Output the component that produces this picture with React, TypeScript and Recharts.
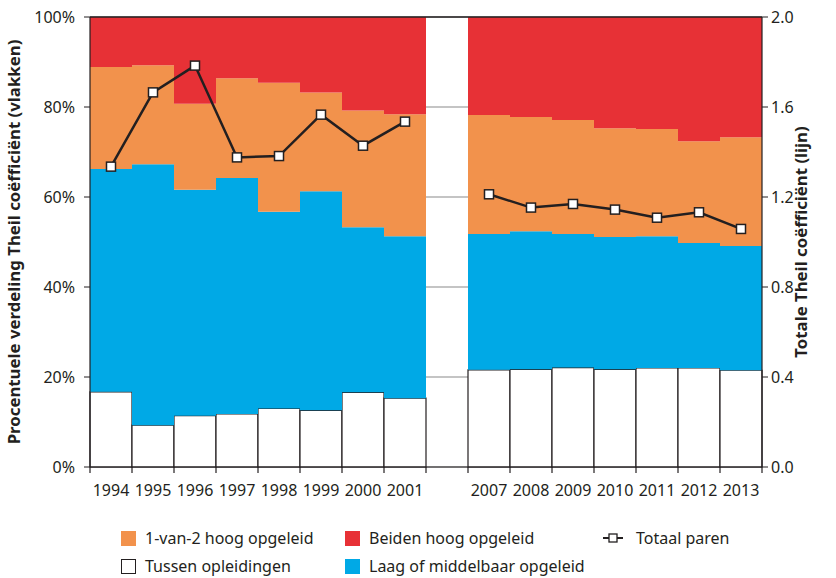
import React from 'react';
import { ComposedChart, Bar, Line, XAxis, YAxis, CartesianGrid, ReferenceLine } from 'recharts';

// categories ('' is the empty gap between the two periods)
const years = ['1994', '1995', '1996', '1997', '1998', '1999', '2000', '2001', '', '2007', '2008', '2009', '2010', '2011', '2012', '2013'];

// stacked shares in %, bottom to top
const tussen = [16.7, 9.3, 11.4, 11.8, 13.0, 12.6, 16.6, 15.3, null, 21.6, 21.7, 22.1, 21.7, 22.0, 22.0, 21.5];
const laag = [49.5, 58.0, 50.2, 52.4, 43.7, 48.7, 36.7, 36.0, null, 30.2, 30.7, 29.7, 29.4, 29.3, 27.8, 27.6];
const eenVanTwee = [22.7, 22.0, 19.1, 22.2, 28.7, 21.9, 25.9, 27.1, null, 26.4, 25.4, 25.3, 24.2, 23.8, 22.6, 24.2];
const beiden = [11.1, 10.7, 19.3, 13.6, 14.6, 16.8, 20.8, 21.6, null, 21.8, 22.2, 22.9, 24.7, 24.9, 27.6, 26.7];

// total Theil coefficient (right axis)
const totaal = [1.335, 1.665, 1.784, 1.376, 1.382, 1.566, 1.428, 1.535, null, 1.212, 1.153, 1.169, 1.144, 1.108, 1.132, 1.058];

const leftTicks = [0, 20, 40, 60, 80, 100];
const rightTicks = [0, 0.4, 0.8, 1.2, 1.6, 2.0];

const data = years.map((year, i) => ({
  year,
  tussen: tussen[i],
  laag: laag[i],
  eenVanTwee: eenVanTwee[i],
  beiden: beiden[i],
  totaal: totaal[i],
}));

const INK = '#231f20';
const ORANGE = '#f2924c';
const RED = '#e73136';
const BLUE = '#00a9e6';
const FONT = '"Noto Sans", sans-serif';

// tick marks sit on the category boundaries, labels in the middle
const YearTick = (props: any) => {
  const { x, y, payload, index } = props;
  const half = payload && payload.offset ? payload.offset : 21;
  const last = index === years.length - 1;
  return (
    <g>
      <line x1={x - half} x2={x - half} y1={y} y2={y + 6} stroke={INK} strokeWidth={1.2} />
      {last && <line x1={x + half} x2={x + half} y1={y} y2={y + 6} stroke={INK} strokeWidth={1.2} />}
      <text x={x} y={y + 29} textAnchor="middle" fontSize={16} fill={INK} fontFamily={FONT}>
        {payload.value}
      </text>
    </g>
  );
};

const SquareDot = (props: any) => {
  const { cx, cy } = props;
  if (cx == null || cy == null) return null;
  return <rect x={cx - 4.5} y={cy - 4.5} width={9} height={9} fill="#fff" stroke={INK} strokeWidth={1.5} />;
};

const sideLabel = (text: string, dx: number) => (props: any) => {
  const { x, y, height } = props.viewBox;
  const cx = x + dx;
  const cy = y + height / 2;
  return (
    <text
      x={cx}
      y={cy}
      transform={`rotate(-90, ${cx}, ${cy})`}
      textAnchor="middle"
      dominantBaseline="central"
      fontSize={16.8}
      fontWeight="bold"
      fill={INK}
      fontFamily={FONT}
    >
      {text}
    </text>
  );
};

const Swatch = ({ color }: { color: string }) => (
  <span
    style={{
      display: 'inline-block',
      width: 13,
      height: 13,
      background: color,
      border: color === '#fff' ? `1px solid ${INK}` : `1px solid ${color}`,
      marginRight: 9,
    }}
  />
);

const LegendItem = ({ left, top, children, label }: any) => (
  <div style={{ position: 'absolute', left, top, display: 'flex', alignItems: 'center', fontSize: 16, color: INK, fontFamily: FONT, whiteSpace: 'nowrap' }}>
    {children}
    {label}
  </div>
);

export default function App() {
  return (
    <div style={{ position: 'absolute', left: 0, top: 0, width: 836, height: 578, background: '#fff' }}>
      <ComposedChart
        width={836}
        height={500}
        data={data}
        margin={{ top: 17, right: 0, bottom: 0, left: 0 }}
        barCategoryGap={0}
        barGap={0}
      >
        <CartesianGrid vertical={false} stroke="#b0b0b0" strokeWidth={1.4} />
        <XAxis
          dataKey="year"
          interval={0}
          height={33}
          tickLine={false}
          tickSize={0}
          tickMargin={0}
          tick={<YearTick />}
          axisLine={{ stroke: INK, strokeWidth: 1.2 }}
        />
        <YAxis
          width={90}
          domain={[0, 100]}
          ticks={leftTicks}
          tickFormatter={(v: number) => `${v}%`}
          tickSize={6}
          tickMargin={9}
          tick={{ fontSize: 16, fill: INK, fontFamily: FONT }}
          tickLine={{ stroke: INK }}
          axisLine={{ stroke: INK, strokeWidth: 1.2 }}
          label={{ content: sideLabel('Procentuele verdeling Theil coëfficiënt (vlakken)', 13) }}
        />
        <YAxis
          yAxisId="right"
          orientation="right"
          width={74}
          domain={[0, 2]}
          ticks={rightTicks}
          tickFormatter={(v: number) => v.toFixed(1)}
          tickSize={6}
          tickMargin={3}
          tick={{ fontSize: 16, fill: INK, fontFamily: FONT }}
          tickLine={{ stroke: INK }}
          axisLine={{ stroke: INK, strokeWidth: 1.2 }}
          label={{ content: sideLabel('Totale Theil coëfficiënt (lijn)', 38) }}
        />
        <Bar dataKey="tussen" stackId="a" fill="#fff" stroke={INK} strokeWidth={1.2} isAnimationActive={false} />
        <Bar dataKey="laag" stackId="a" fill={BLUE} isAnimationActive={false} />
        <Bar dataKey="eenVanTwee" stackId="a" fill={ORANGE} isAnimationActive={false} />
        <Bar dataKey="beiden" stackId="a" fill={RED} isAnimationActive={false} />
        <ReferenceLine y={100} stroke={INK} strokeWidth={1.5} />
        <Line
          yAxisId="right"
          dataKey="totaal"
          stroke={INK}
          strokeWidth={2.5}
          dot={<SquareDot />}
          activeDot={false}
          isAnimationActive={false}
        />
      </ComposedChart>

      <LegendItem left={121} top={527} label="1-van-2 hoog opgeleid">
        <Swatch color={ORANGE} />
      </LegendItem>
      <LegendItem left={345} top={527} label="Beiden hoog opgeleid">
        <Swatch color={RED} />
      </LegendItem>
      <LegendItem left={603} top={527} label="Totaal paren">
        <svg width={24} height={12} style={{ marginRight: 9 }}>
          <line x1={0} x2={20} y1={6} y2={6} stroke={INK} strokeWidth={2} />
          <rect x={6} y={2} width={8} height={8} fill="#fff" stroke={INK} strokeWidth={1.3} />
        </svg>
      </LegendItem>
      <LegendItem left={121} top={555} label="Tussen opleidingen">
        <Swatch color="#fff" />
      </LegendItem>
      <LegendItem left={345} top={555} label="Laag of middelbaar opgeleid">
        <Swatch color={BLUE} />
      </LegendItem>
    </div>
  );
}
